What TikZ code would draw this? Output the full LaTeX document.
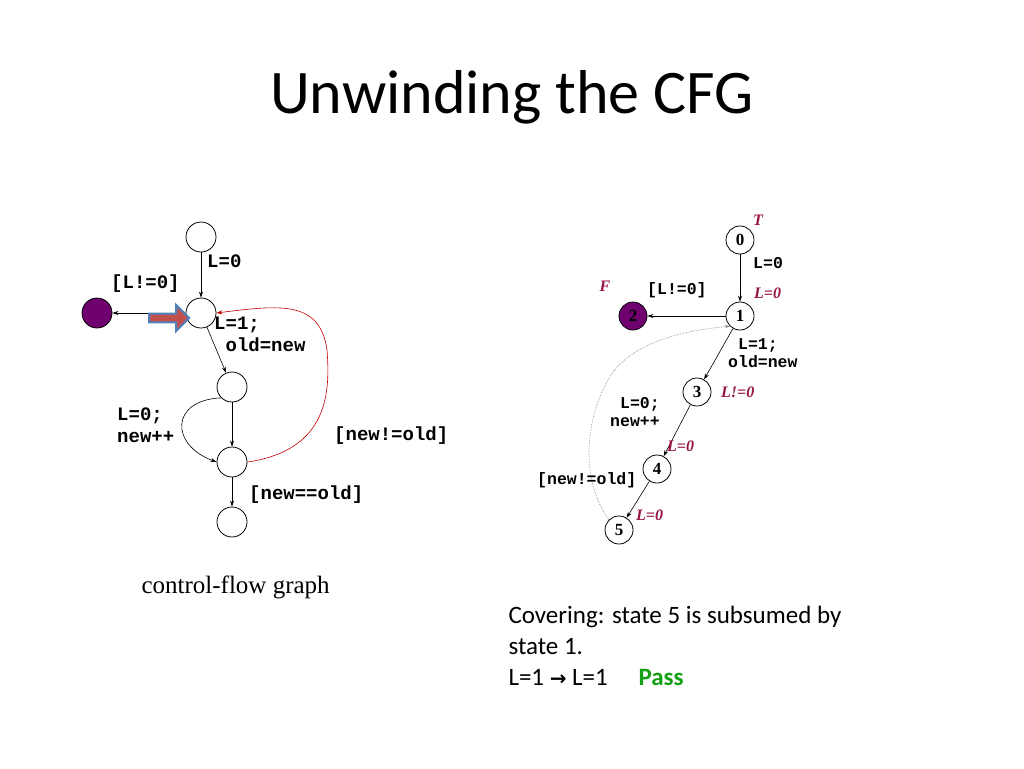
\documentclass[tikz,border=0pt]{standalone}
\usepackage{fontspec}
\setmainfont{Liberation Serif}
\newfontfamily\calib{Carlito}
\newfontfamily\codef{Liberation Mono}
\usetikzlibrary{arrows.meta,shapes.arrows}
\definecolor{plum}{RGB}{112,0,112}
\definecolor{lab}{RGB}{150,20,70}
\definecolor{passg}{RGB}{20,160,20}
\definecolor{arrfill}{RGB}{192,80,77}
\definecolor{arrline}{RGB}{79,129,189}
\begin{document}
\begin{tikzpicture}[x=1pt,y=-1pt,
 st/.style={circle,draw,minimum size=30pt,inner sep=0pt,line width=0.8pt},
 rs/.style={circle,draw,minimum size=28pt,inner sep=0pt,line width=0.8pt,font=\fontsize{17}{17}\selectfont\bfseries},
 code/.style={font=\codef\bfseries\fontsize{19}{22}\selectfont,align=left,inner sep=0pt},
 rcode/.style={font=\codef\bfseries\fontsize{16.5}{18}\selectfont,align=left,inner sep=0pt},
 red/.style={font=\fontsize{16}{16}\selectfont\bfseries\itshape,text=lab,inner sep=0pt},
 ed/.style={-{Stealth[length=6pt,width=4pt]},line width=0.6pt}]
\useasboundingbox (0,0) rectangle (1024,768);
\node[font=\calib\fontsize{62}{62}\selectfont] (title) at (512,97) {Unwinding the CFG};
% left CFG
\node[st] (a) at (201,237) {};
\node[st] (b) at (201,313) {};
\node[st] (c) at (232,387) {};
\node[st] (d) at (232,462) {};
\node[st] (e) at (232,522) {};
\node[st,fill=plum] (p) at (97,313) {};
\draw[ed] (a) -- (b);
\draw[ed] (b) -- (p);
\draw[ed] (b) -- (c);
\draw[ed] (c) -- (d);
\draw[ed] (d) -- (e);
\draw[ed] (c.south west) .. controls (170,400) and (170,445) .. (d.west);
\draw[ed,red!75!black] (d.east) .. controls (330,450) and (330,390) .. (327,350) .. controls (320,300) and (280,305) .. (b.east);
\node[single arrow,draw=arrline,fill=arrfill,line width=2pt,minimum height=40pt,minimum width=26pt,single arrow head extend=6pt,inner sep=2pt] (blk) at (167,318) {};
\node[code,anchor=west] (l1) at (207,261) {L=0};
\node[code,anchor=west] (l2) at (111,284) {[L!=0]};
\node[code,anchor=west] (l3) at (214,334) {L=1;\\\ old=new};
\node[code,anchor=west] (l4) at (117,425) {L=0;\\new++};
\node[code,anchor=west] (l5) at (334,436) {[new!=old]};
\node[code,anchor=west] (l6) at (249,495) {[new==old]};
\node[font=\fontsize{25}{25}\selectfont,anchor=west] (cfg) at (138,587) {control-flow graph};
% right ART
\node[rs] (r0) at (740,240) {0};
\node[rs] (r1) at (740,316) {1};
\node[rs,fill=plum] (r2) at (633,316) {2};
\node[rs] (r3) at (697,392) {3};
\node[rs] (r4) at (657,469) {4};
\node[rs] (r5) at (619,530) {5};
\draw[ed] (r0) -- (r1);
\draw[ed] (r1) -- (r2);
\draw[ed] (r1) -- (r3);
\draw[ed] (r3) -- (r4);
\draw[ed] (r4) -- (r5);
\draw[-{Stealth[length=5pt,width=3pt]},densely dotted,gray,line width=0.6pt] (r5.north west) .. controls (580,480) and (585,420) .. (608,380) .. controls (630,340) and (690,330) .. (r1.south west);
\node[red] at (758,220) {T};
\node[red] at (605,286) {F};
\node[red,anchor=west] at (754,293) {L=0};
\node[red,anchor=west] at (721,392) {L!=0};
\node[red,anchor=west] at (667,446) {L=0};
\node[red,anchor=west] at (636,515) {L=0};
\node[rcode,anchor=west] (m1) at (753,263) {L=0};
\node[rcode,anchor=west] (m2) at (647,290) {[L!=0]};
\node[rcode,align=left,anchor=west] (m3) at (728,353) {\ L=1;\\old=new};
\node[rcode,anchor=west] (m4) at (610,412) {\ L=0;\\new++};
\node[rcode,anchor=west] (m5) at (537,480) {[new!=old]};
\node[font=\calib\fontsize{25}{31}\selectfont,align=left,anchor=north west] (cov) at (505,603) {Covering: state 5 is subsumed by\\state 1.\\L=1 {\fontspec{DejaVu Sans}\bfseries\fontsize{20}{20}\selectfont→} L=1\quad\ \textcolor{passg}{\textbf{Pass}}};
\end{tikzpicture}
\end{document}
